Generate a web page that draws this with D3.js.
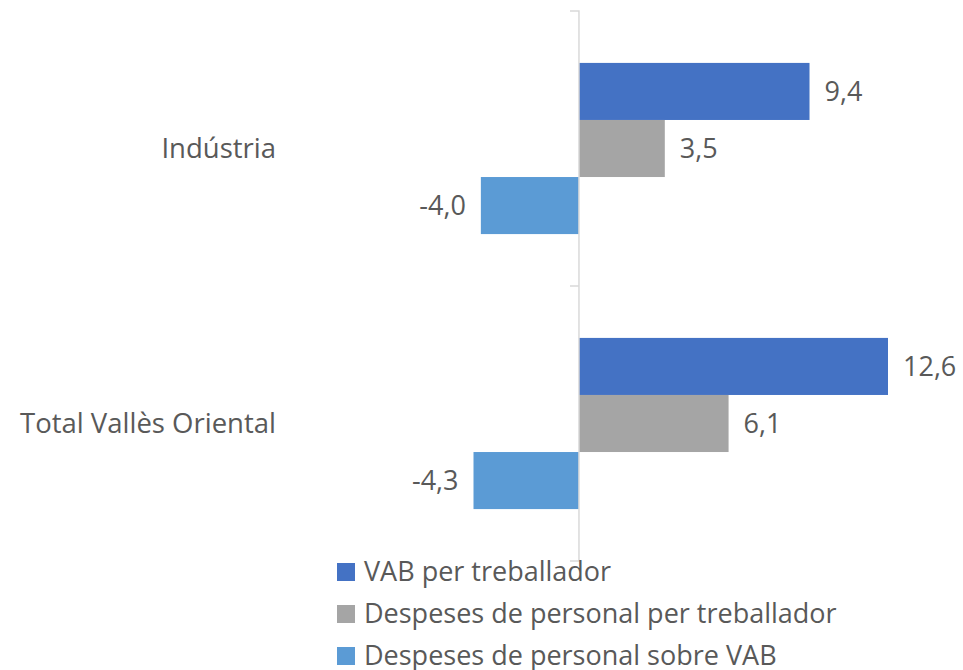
<!DOCTYPE html>
<html>
<head>
<meta charset="utf-8">
<script src="https://cdn.jsdelivr.net/npm/d3@7"></script>
<style>
  body { margin: 0; background: #fff; }
  text { font-family: "Open Sans", sans-serif; fill: #595959; }
</style>
</head>
<body>
<div id="chart-container"></div>
<script>
/* Grouped horizontal bars: Indústria vs Total Vallès Oriental */

const categories = ["Indústria", "Total Vallès Oriental"];
const seriesNames = [
  "VAB per treballador",
  "Despeses de personal per treballador",
  "Despeses de personal sobre VAB",
];
const vabPerTreballador = [9.4, 12.6];
const despesesPerTreballador = [3.5, 6.1];
const despesesSobreVab = [-4.0, -4.3];
const seriesColors = ["#4472C4", "#A5A5A5", "#5B9BD5"];

function create_bars() {
  let height = 670,
    width = 963,
    margin = { top: 11, bottom: 109 };

  const svg = d3
    .select("#chart-container")
    .append("svg")
    .attr("width", width)
    .attr("height", height);

  let values = [vabPerTreballador, despesesPerTreballador, despesesSobreVab];
  let data = [];
  categories.forEach((c, i) => {
    seriesNames.forEach((s, j) => {
      data.push({ category: c, series: s, value: values[j][i] });
    });
  });

  let x = d3.scaleLinear().domain([-4.3, 12.6]).range([473.5, 888]);

  let y = d3
    .scaleBand()
    .domain(categories)
    .range([margin.top, height - margin.bottom]);

  let yInner = d3
    .scaleBand()
    .domain(seriesNames)
    .range([0, y.bandwidth()])
    .paddingOuter(0.91);

  let color = d3.scaleOrdinal().domain(seriesNames).range(seriesColors);

  // bars
  svg
    .append("g")
    .selectAll(".bar")
    .data(data)
    .join("rect")
    .attr("class", "bar")
    .attr("x", (d) => x(Math.min(0, d.value)))
    .attr("width", (d) => Math.abs(x(d.value) - x(0)))
    .attr("y", (d) => y(d.category) + yInner(d.series))
    .attr("height", yInner.bandwidth())
    .attr("fill", (d) => color(d.series));

  // axis line + tick marks
  let axis = svg
    .append("g")
    .attr("transform", `translate(${x(0)},0)`)
    .call(d3.axisLeft(y).tickSize(9).tickFormat(""));
  axis.select(".domain").attr("stroke", "#D9D9D9").attr("stroke-width", 1.5)
    .attr("d", `M-9,${margin.top}H0V${height - margin.bottom}H-9`);
  axis.selectAll(".tick").remove();
  axis
    .selectAll(".sep")
    .data(categories.slice(1))
    .join("line")
    .attr("x1", -9)
    .attr("x2", 0)
    .attr("y1", (d) => y(d))
    .attr("y2", (d) => y(d))
    .attr("stroke", "#D9D9D9")
    .attr("stroke-width", 1.5);

  // category labels
  svg
    .append("g")
    .selectAll(".cat-label")
    .data(categories)
    .join("text")
    .attr("class", "cat-label")
    .attr("x", 276)
    .attr("y", (d) => y(d) + y.bandwidth() / 2)
    .attr("dy", "0.35em")
    .attr("text-anchor", "end")
    .style("font-size", "27.5px")
    .text((d) => d);

  // value labels
  svg
    .append("g")
    .selectAll(".val-label")
    .data(data)
    .join("text")
    .attr("class", "val-label")
    .attr("x", (d) => (d.value < 0 ? x(d.value) - 15 : x(d.value) + 15))
    .attr("y", (d) => y(d.category) + yInner(d.series) + yInner.bandwidth() / 2)
    .attr("dy", "0.35em")
    .attr("text-anchor", (d) => (d.value < 0 ? "end" : "start"))
    .style("font-size", "27px")
    .text((d) => d3.format(".1f")(d.value).replace(".", ",").replace("−", "-"));

  // legend
  let legend = svg
    .append("g")
    .selectAll(".legend")
    .data(seriesNames)
    .join("g")
    .attr("class", "legend")
    .attr("transform", (d, i) => `translate(337,${572 + i * 42})`);

  legend
    .append("rect")
    .attr("y", -9)
    .attr("width", 18)
    .attr("height", 18)
    .attr("fill", (d) => color(d));

  legend
    .append("text")
    .attr("x", 27)
    .attr("dy", "0.33em")
    .style("font-size", "27px")
    .text((d) => d);
}

create_bars();
</script>
</body>
</html>
